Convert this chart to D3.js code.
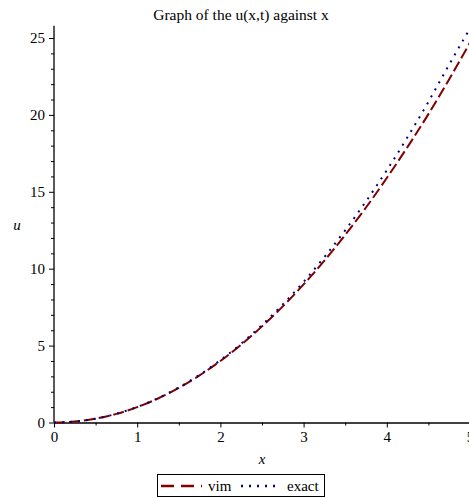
<!DOCTYPE html>
<html>
<head>
<meta charset="utf-8">
<script src="https://d3js.org/d3.v7.min.js"></script>
<style>
    html, body { margin: 0; padding: 0; background: #ffffff; overflow: hidden; }
    svg { display: block; font-family: "Liberation Serif", "DejaVu Serif", serif; }
</style>
</head>
<body>
<div id="chart"></div>
<script>
const xValues = [0, 0.25, 0.5, 0.75, 1, 1.25, 1.5, 1.75, 2, 2.25, 2.5, 2.75, 3, 3.25, 3.5, 3.75, 4, 4.25, 4.5, 4.75, 5];
const vimValues = [0, 0.06, 0.25, 0.56, 1.0, 1.56, 2.25, 3.06, 4.0, 5.06, 6.25, 7.55, 8.98, 10.52, 12.2, 13.98, 15.9, 17.92, 20.05, 22.32, 24.7];
const exactValues = [0, 0.06, 0.25, 0.57, 1.01, 1.58, 2.28, 3.1, 4.05, 5.13, 6.34, 7.68, 9.15, 10.76, 12.5, 14.38, 16.4, 18.56, 20.85, 23.28, 25.62];

const xTicks = [0, 1, 2, 3, 4, 5];
const xMinorTicks = [0.5, 1.5, 2.5, 3.5, 4.5];
const yTicks = [0, 5, 10, 15, 20, 25];
const yMinorTicks = d3.range(0, 26).filter(v => v % 5 !== 0);

const seriesNames = ['vim', 'exact'];
const seriesColors = ['#800000', '#000080'];

const width = 469;
const height = 498;

const x = d3.scaleLinear().domain([0, 5]).range([54, 470]);
const y = d3.scaleLinear().domain([0, 25]).range([422.5, 38]);

const svg = d3.select('#chart')
    .append('svg')
    .attr('width', width)
    .attr('height', height);

// titulo
svg.append('text')
    .attr('x', 241)
    .attr('y', 20)
    .attr('text-anchor', 'middle')
    .attr('font-size', '15.5px')
    .attr('fill', '#000')
    .text('Graph of the u(x,t) against x');

// ejes: ticks menores
svg.append('g')
    .attr('transform', `translate(0,${y(0)})`)
    .call(d3.axisBottom(x).tickValues(xMinorTicks).tickSize(3).tickFormat(''))
    .call(g => g.select('.domain').remove());

svg.append('g')
    .attr('transform', `translate(${x(0)},0)`)
    .call(d3.axisLeft(y).tickValues(yMinorTicks).tickSize(3).tickFormat(''))
    .call(g => g.select('.domain').remove());

// ejes: ticks mayores
const xAxis = svg.append('g')
    .attr('transform', `translate(0,${y(0)})`)
    .call(d3.axisBottom(x).tickValues(xTicks).tickFormat(d3.format('d'))
        .tickSize(5).tickSizeOuter(0).tickPadding(4));

const yAxis = svg.append('g')
    .attr('transform', `translate(${x(0)},0)`)
    .call(d3.axisLeft(y).tickValues(yTicks).tickFormat(d3.format('d'))
        .tickSize(5).tickSizeOuter(0).tickPadding(4));

yAxis.select('.domain').attr('d', `M0,${y(0)}V${y(25.8)}`);

svg.selectAll('.tick line').attr('stroke', '#000');
svg.selectAll('.domain').attr('stroke', '#000').attr('stroke-width', 1.3);

[xAxis, yAxis].forEach(a => a.selectAll('text')
    .attr('font-family', '"Liberation Serif", serif')
    .attr('font-size', '15px')
    .attr('fill', '#000'));

// etiquetas de ejes
svg.append('text')
    .attr('x', 262)
    .attr('y', 464)
    .attr('text-anchor', 'middle')
    .attr('font-size', '15px')
    .attr('font-style', 'italic')
    .text('x');

svg.append('text')
    .attr('x', 17)
    .attr('y', 230)
    .attr('text-anchor', 'middle')
    .attr('font-size', '15px')
    .attr('font-style', 'italic')
    .text('u');

// curvas
const line = d3.line()
    .x(d => x(d[0]))
    .y(d => y(d[1]))
    .curve(d3.curveMonotoneX);

svg.append('path')
    .datum(xValues.map((v, i) => [v, vimValues[i]]))
    .attr('d', line)
    .attr('fill', 'none')
    .attr('stroke', seriesColors[0])
    .attr('stroke-width', 2)
    .attr('stroke-dasharray', '11,4');

svg.append('path')
    .datum(xValues.map((v, i) => [v, exactValues[i]]))
    .attr('d', line)
    .attr('fill', 'none')
    .attr('stroke', seriesColors[1])
    .attr('stroke-width', 2)
    .attr('stroke-dasharray', '2,6');

// leyenda
const legend = svg.append('g');

legend.append('rect')
    .attr('x', 157.5)
    .attr('y', 474.5)
    .attr('width', 167)
    .attr('height', 22)
    .attr('fill', '#fff')
    .attr('stroke', '#000')
    .attr('stroke-width', 1);

const legendItems = [
    { lx: 161, lw: 41, tx: 208, dash: '13,7' },
    { lx: 241, lw: 36, tx: 287, dash: '2,6' }
];

legendItems.forEach((item, i) => {
    legend.append('line')
        .attr('x1', item.lx)
        .attr('x2', item.lx + item.lw)
        .attr('y1', 486)
        .attr('y2', 486)
        .attr('stroke', seriesColors[i])
        .attr('stroke-width', 2.5)
        .attr('stroke-dasharray', item.dash);

    legend.append('text')
        .attr('x', item.tx)
        .attr('y', 491)
        .attr('font-size', '15px')
        .attr('fill', '#000')
        .text(seriesNames[i]);
});
</script>
</body>
</html>
